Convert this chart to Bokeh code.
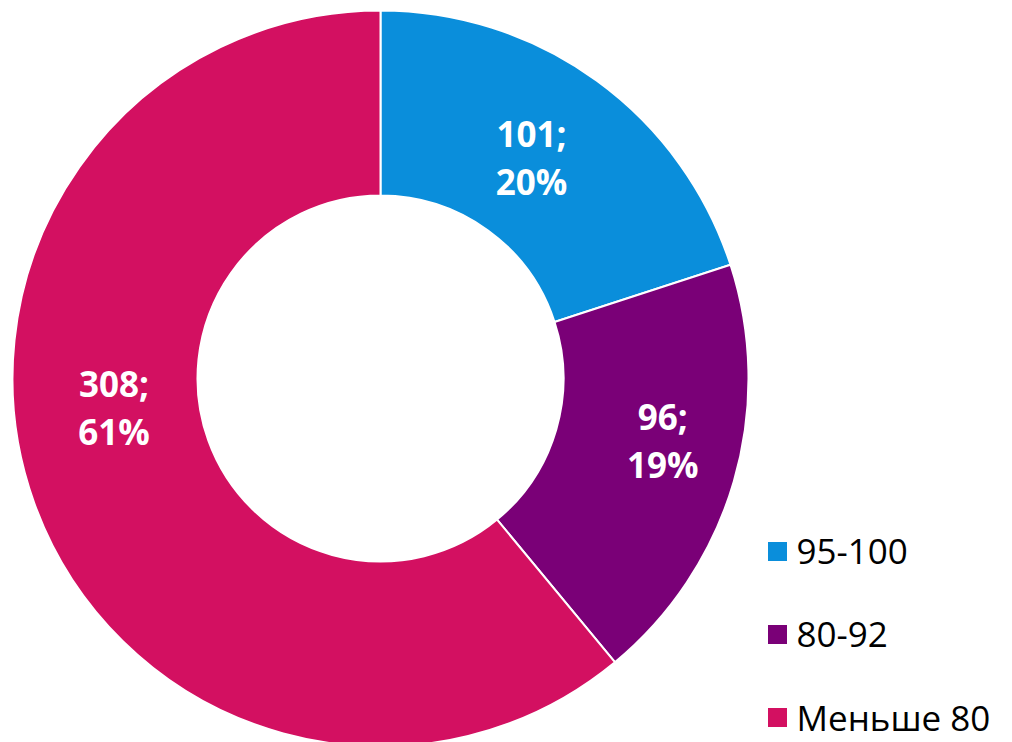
import numpy as np
from bokeh.plotting import figure
from bokeh.models import Range1d, ColumnDataSource
from bokeh.core.properties import value
from bokeh.embed import file_html
from bokeh.resources import INLINE

# ---- data ----
categories = ["95-100", "80-92", "Меньше 80"]
counts = [101, 96, 308]
colors = ["#0A8EDB", "#7A0077", "#D31061"]

# ---- layout (page pixels) ----
W, H = 1012, 742
cx, cy = 380, 378
r_out, r_in = 368, 183
label_r = [268, 289, 268]
label_shift_deg = [1.7, 3.8, -13.6]
line_gap = 24
leg_x, leg_y0, leg_dy = 777, 551, 83

total = float(sum(counts))
fracs = np.array(counts) / total
cum = np.concatenate([[0.0], np.cumsum(fracs)])
start = np.pi / 2 - 2 * np.pi * cum[:-1]
end = np.pi / 2 - 2 * np.pi * cum[1:]

p = figure(width=W, height=H, output_backend="svg", toolbar_location=None,
           x_range=Range1d(0, W), y_range=Range1d(-H, 0),
           min_border=0, outline_line_color=None)
p.axis.visible = False
p.grid.visible = False
p.background_fill_color = "white"
p.border_fill_color = "white"

src = ColumnDataSource(dict(start=start, end=end, color=colors))
p.annular_wedge(x=cx, y=-cy, inner_radius=r_in, outer_radius=r_out,
                start_angle="end", end_angle="start", fill_color="color",
                line_color="white", line_width=2, source=src)

mid = (start + end) / 2 + np.deg2rad(label_shift_deg)
lx = cx + np.array(label_r) * np.cos(mid)
ly = -cy + np.array(label_r) * np.sin(mid)
line1 = [f"{c};" for c in counts]
line2 = [f"{round(f * 100):.0f}%" for f in fracs]
for txt, dy in ((line1, line_gap), (line2, -line_gap)):
    p.text(x=lx, y=ly + dy, text=txt, text_color="white",
           text_font=value("Open Sans"), text_font_style="bold",
           text_font_size="35px", text_align="center", text_baseline="middle")

# legend
ly_leg = -(leg_y0 + leg_dy * np.arange(len(categories)))
p.scatter(x=[leg_x] * len(categories), y=ly_leg, marker="square", size=19,
          fill_color=colors, line_color=None)
p.text(x=[leg_x + 19] * len(categories), y=ly_leg, text=categories,
       text_color="black", text_font=value("Open Sans"), text_font_size="35px",
       text_align="left", text_baseline="middle")

open("out.html", "w").write(file_html(p, INLINE))
